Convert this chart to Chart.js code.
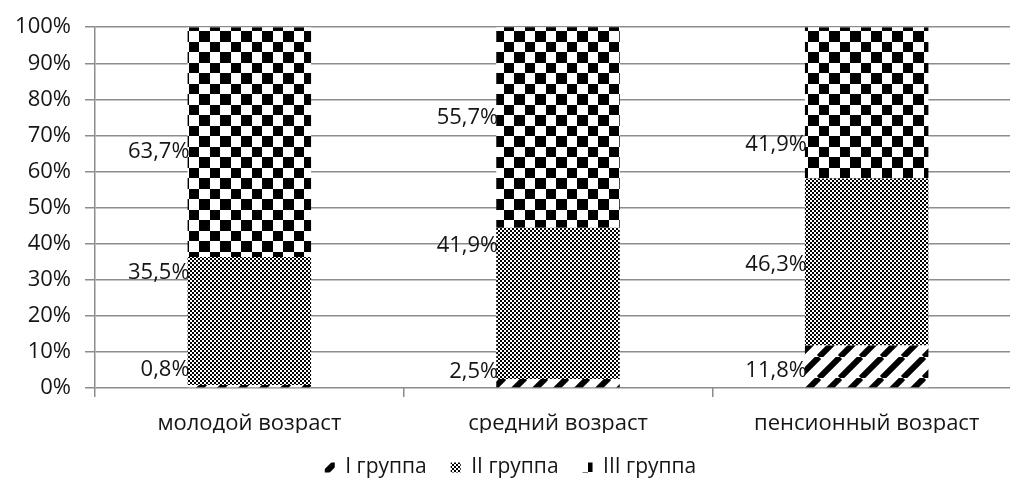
<!DOCTYPE html>
<html>
<head>
<meta charset="utf-8">
<script src="https://cdn.jsdelivr.net/npm/chart.js@4/dist/chart.umd.min.js"></script>
<style>
  html, body { margin: 0; padding: 0; background: #fff; overflow: hidden; }
  #wrap { width: 1050px; height: 488px; }
</style>
</head>
<body>
<div id="wrap"><canvas id="chart" width="1050" height="488"></canvas></div>
<script>
// categories and series values (percent)
const categories = ['молодой возраст', 'средний возраст', 'пенсионный возраст'];
const group1 = [0.8, 2.5, 11.8];
const group2 = [35.5, 41.9, 46.3];
const group3 = [63.7, 55.7, 41.9];
const seriesNames = ['I группа', 'II группа', 'III группа'];
const yTicks = [0, 10, 20, 30, 40, 50, 60, 70, 80, 90, 100];

const FONT = '"Open Sans", "DejaVu Sans", sans-serif';
const TEXT = '#151515';
const GRID = '#8c8c8c';

/** Make a repeating canvas pattern */
function makePattern(size, draw) {
  const c = document.createElement('canvas');
  c.width = size; c.height = size;
  const g = c.getContext('2d');
  g.fillStyle = '#fff';
  g.fillRect(0, 0, size, size);
  g.fillStyle = '#000';
  g.strokeStyle = '#000';
  draw(g, size);
  return c.getContext('2d').createPattern(c, 'repeat');
}

const ctx = document.getElementById('chart').getContext('2d');

const stripes = makePattern(21, (g, s) => {
  g.lineWidth = 6;
  for (let k = -1; k <= 1; k++) {
    g.beginPath();
    g.moveTo(k * s, s);
    g.lineTo(k * s + s, 0);
    g.stroke();
  }
});
const fineChecker = makePattern(4, g => {
  g.fillRect(0, 0, 2, 2);
  g.fillRect(2, 2, 2, 2);
});
const bigChecker = makePattern(21, g => {
  g.fillRect(0, 0, 10, 10);
  g.fillRect(10, 10, 11, 11);
});

// data labels sit left of each bar, at the level they have in the picture (value units)
const labelLevels = [
  [5.2, 4.4, 4.7],
  [32, 39.5, 34.3],
  [65.5, 74.9, 67.4],
];

const sideLabels = {
  id: 'sideLabels',
  afterDatasetsDraw(chart) {
    const c = chart.ctx;
    const y = chart.scales.y;
    c.save();
    c.font = '22px ' + FONT;
    c.fillStyle = TEXT;
    c.textAlign = 'right';
    c.textBaseline = 'middle';
    chart.data.datasets.forEach((ds, di) => {
      const meta = chart.getDatasetMeta(di);
      meta.data.forEach((bar, i) => {
        const left = bar.x - bar.width / 2;
        const txt = ds.data[i].toFixed(1).replace('.', ',') + '%';
        c.fillText(txt, left + 2, y.getPixelForValue(labelLevels[di][i]));
      });
    });
    c.restore();
  },
};

new Chart(ctx, {
  type: 'bar',
  data: {
    labels: categories,
    datasets: [
      { label: seriesNames[0], data: group1, backgroundColor: stripes },
      { label: seriesNames[1], data: group2, backgroundColor: fineChecker },
      { label: seriesNames[2], data: group3, backgroundColor: bigChecker },
    ],
  },
  options: {
    responsive: false,
    animation: false,
    devicePixelRatio: 1,
    layout: { padding: { top: 23, right: 29, left: 0, bottom: 0 } },
    datasets: { bar: { barPercentage: 0.4, categoryPercentage: 1, borderWidth: 0 } },
    plugins: {
      legend: {
        position: 'bottom',
        labels: {
          font: { family: FONT, size: 21 },
          color: TEXT,
          boxWidth: 10,
          boxHeight: 10,
          padding: 24,
        },
      },
      tooltip: { enabled: false },
    },
    scales: {
      x: {
        stacked: true,
        afterFit: axis => { axis.height = 45; },
        grid: { offset: true, drawOnChartArea: false, drawTicks: true, tickLength: 9, color: GRID, lineWidth: 1.5 },
        border: { display: false },
        ticks: { font: { family: FONT, size: 22 }, color: TEXT, padding: 14 },
      },
      y: {
        stacked: true,
        min: 0,
        max: 100,
        afterFit: axis => { axis.width = 95; },
        afterBuildTicks: axis => { axis.ticks = yTicks.map(v => ({ value: v })); },
        grid: { color: GRID, lineWidth: 1.5, tickLength: 10 },
        border: { display: true, color: GRID, width: 1.5 },
        ticks: {
          font: { family: FONT, size: 22 },
          color: TEXT,
          padding: 14,
          callback: v => v + '%',
        },
      },
    },
  },
  plugins: [sideLabels],
});
</script>
</body>
</html>
